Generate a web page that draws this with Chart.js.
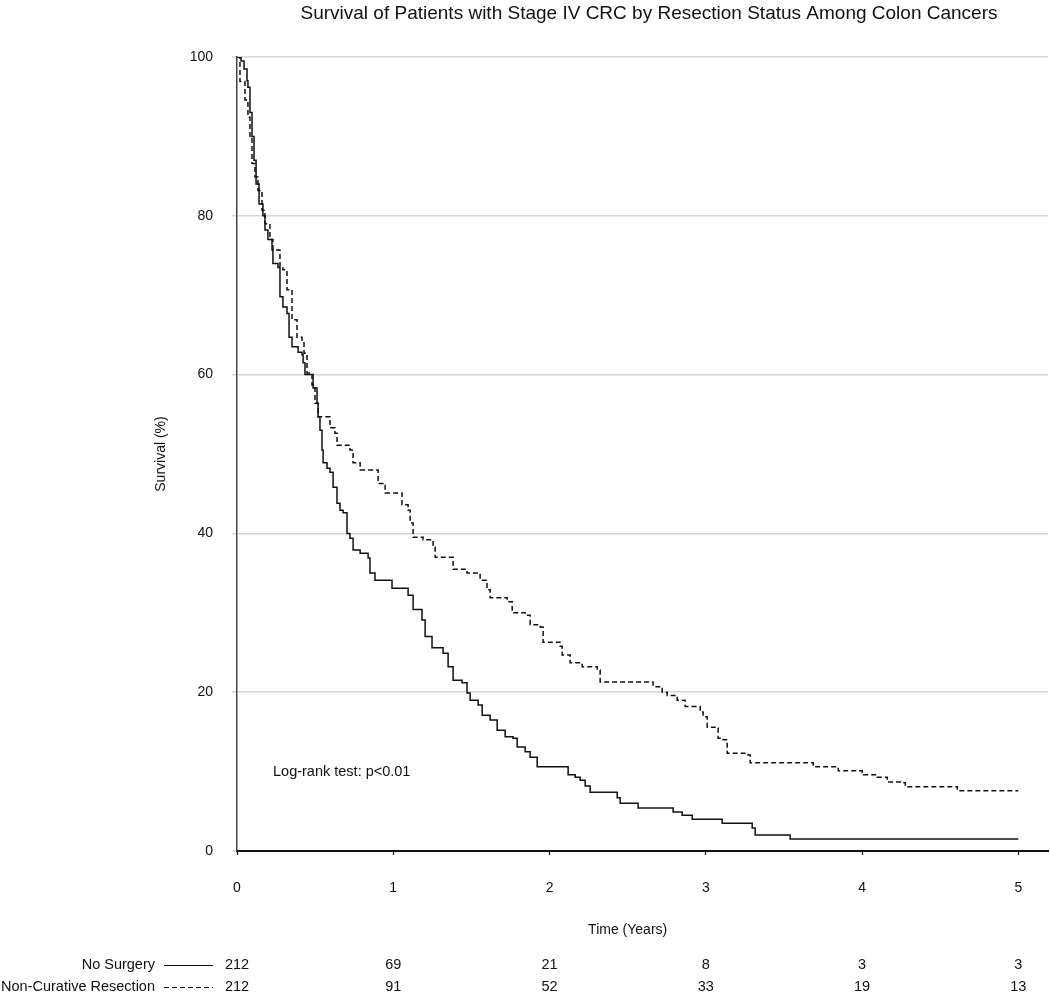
<!DOCTYPE html>
<html lang="en">
<head>
  <meta charset="UTF-8" />
  <title>Survival of Patients with Stage IV CRC by Resection Status</title>
  <script src="https://cdn.jsdelivr.net/npm/chart.js"></script>
  <style>
    body {
      margin: 0;
      background: #fff;
      font-family: 'Liberation Sans', Arial, sans-serif;
    }
    #wrap {
      width: 1050px;
      height: 992px;
    }
  </style>
</head>
<body>
  <div id="wrap">
    <canvas id="grafico" width="1050" height="992"></canvas>
  </div>

  <script>
    // Kaplan-Meier steps (time in years, survival in %)
    const noSurgeryTime = [0, 0.026, 0.045, 0.064, 0.070, 0.083, 0.096, 0.109, 0.122, 0.141, 0.166, 0.179, 0.198, 0.224, 0.230, 0.262, 0.275, 0.294, 0.320, 0.333, 0.352, 0.391, 0.416, 0.423, 0.435, 0.487, 0.512, 0.519, 0.531, 0.544, 0.551, 0.576, 0.595, 0.615, 0.640, 0.659, 0.679, 0.704, 0.723, 0.743, 0.788, 0.839, 0.851, 0.883, 0.992, 1.095, 1.127, 1.184, 1.204, 1.248, 1.319, 1.351, 1.383, 1.440, 1.472, 1.492, 1.543, 1.569, 1.620, 1.665, 1.716, 1.767, 1.793, 1.844, 1.876, 1.921, 2.119, 2.164, 2.196, 2.228, 2.260, 2.433, 2.452, 2.567, 2.791, 2.849, 2.913, 3.105, 3.297, 3.316, 3.540, 5.0];
    const noSurgerySurv = [100, 99.5, 98.5, 97, 96.2, 93, 90, 87, 84, 81.5, 80, 78.2, 77, 75.7, 74, 73.5, 69.8, 68.5, 67.7, 64.7, 63.5, 62.8, 62.5, 61.5, 60, 58.3, 56.4, 54.7, 53, 50.5, 48.9, 48.2, 47.7, 45.8, 43.8, 42.9, 42.6, 40, 39.4, 37.9, 37.5, 36.9, 35, 34.1, 33.1, 32.2, 30.4, 29.1, 27, 25.6, 24.9, 23.2, 21.5, 21.2, 19.9, 19, 18.4, 17.1, 16.5, 15.2, 14.4, 14.2, 13.1, 12.5, 11.8, 10.6, 9.6, 9.3, 8.9, 8.2, 7.4, 6.7, 6, 5.4, 4.9, 4.5, 4, 3.5, 2.9, 2, 1.5, 1.5];

    const resectionTime = [0, 0.019, 0.051, 0.070, 0.083, 0.096, 0.115, 0.134, 0.160, 0.179, 0.211, 0.230, 0.275, 0.294, 0.320, 0.352, 0.384, 0.416, 0.429, 0.448, 0.480, 0.499, 0.519, 0.595, 0.627, 0.640, 0.723, 0.743, 0.788, 0.903, 0.948, 1.056, 1.095, 1.108, 1.127, 1.191, 1.255, 1.268, 1.383, 1.472, 1.556, 1.600, 1.620, 1.729, 1.761, 1.844, 1.876, 1.940, 1.959, 2.068, 2.081, 2.132, 2.209, 2.305, 2.324, 2.663, 2.721, 2.753, 2.817, 2.868, 2.964, 2.983, 3.009, 3.060, 3.079, 3.111, 3.137, 3.271, 3.284, 3.688, 3.848, 4.001, 4.008, 4.097, 4.161, 4.257, 4.277, 4.610, 5.0];
    const resectionSurv = [100, 96.9, 94.6, 92.4, 90, 86.6, 84.9, 83.2, 80.7, 79, 77, 75.7, 73.5, 73.2, 70.7, 66.9, 64.7, 64, 62.7, 60.2, 58.7, 56.4, 54.7, 53.3, 52.6, 51.1, 50.5, 48.9, 48, 46.3, 45.1, 43.6, 42.9, 41.3, 39.5, 39.2, 38.3, 37, 35.5, 35, 34.1, 32.9, 31.9, 31.4, 30, 29.7, 28.5, 28.2, 26.3, 25.8, 24.7, 23.7, 23.2, 22.8, 21.3, 20.7, 20, 19.6, 19, 18.2, 17.5, 16.9, 15.6, 15.5, 14.2, 14, 12.3, 12.1, 11.1, 10.6, 10.1, 9.9, 9.6, 9.3, 8.7, 8.6, 8.1, 7.6, 7.6];

    // number at risk table
    const atRiskTimes = [0, 1, 2, 3, 4, 5];
    const noSurgeryAtRisk = [212, 69, 21, 8, 3, 3];
    const resectionAtRisk = [212, 91, 52, 33, 19, 13];

    const yTicks = [0, 20, 40, 60, 80, 100];
    const xTicks = [0, 1, 2, 3, 4, 5];

    const tituloGrafico = "Survival of Patients with Stage IV CRC by Resection Status Among Colon Cancers";
    const fuente = "'Liberation Sans', Arial, sans-serif";

    function aPuntos(tiempos, valores) {
      return tiempos.map((t, i) => ({ x: t, y: valores[i] }));
    }

    // titles, annotation and the at-risk table
    const textosExtra = {
      id: "textosExtra",
      afterDraw(chart) {
        const ctx = chart.ctx;
        const xs = chart.scales.x;
        const area = chart.chartArea;
        ctx.save();
        ctx.fillStyle = "#111";

        ctx.font = "19px " + fuente;
        ctx.textAlign = "center";
        ctx.textBaseline = "middle";
        ctx.fillText(tituloGrafico, 649, 14);

        ctx.font = "14px " + fuente;
        ctx.save();
        ctx.translate(161, (area.top + area.bottom) / 2);
        ctx.rotate(-Math.PI / 2);
        ctx.fillText("Survival (%)", 0, 0);
        ctx.restore();

        ctx.fillText("Time (Years)", (xs.getPixelForValue(0) + xs.getPixelForValue(5)) / 2, 930);

        ctx.textAlign = "left";
        ctx.font = "14.5px " + fuente;
        ctx.fillText("Log-rank test: p<0.01", 273, 772);

        // at-risk rows
        const filas = [
          { nombre: "No Surgery", datos: noSurgeryAtRisk, y: 965, dash: [] },
          { nombre: "Non-Curative Resection", datos: resectionAtRisk, y: 987, dash: [5, 3] }
        ];
        ctx.font = "14.5px " + fuente;
        filas.forEach(f => {
          ctx.textAlign = "right";
          ctx.fillText(f.nombre, 155, f.y);
          ctx.beginPath();
          ctx.setLineDash(f.dash);
          ctx.lineWidth = 1.2;
          ctx.strokeStyle = "#111";
          ctx.moveTo(164, f.y + 0.5);
          ctx.lineTo(213, f.y + 0.5);
          ctx.stroke();
          ctx.setLineDash([]);
          ctx.textAlign = "center";
          f.datos.forEach((n, i) => {
            ctx.fillText(String(n), xs.getPixelForValue(atRiskTimes[i]), f.y);
          });
        });
        ctx.restore();
      }
    };

    const ctx = document.getElementById("grafico").getContext("2d");

    new Chart(ctx, {
      type: "line",
      data: {
        datasets: [
          {
            label: "No Surgery",
            data: aPuntos(noSurgeryTime, noSurgerySurv),
            borderColor: "#111",
            borderWidth: 1.5,
            stepped: true,
            pointRadius: 0,
            fill: false
          },
          {
            label: "Non-Curative Resection",
            data: aPuntos(resectionTime, resectionSurv),
            borderColor: "#111",
            borderWidth: 1.5,
            borderDash: [5, 3],
            stepped: true,
            pointRadius: 0,
            fill: false
          }
        ]
      },
      options: {
        responsive: false,
        animation: false,
        layout: { padding: { top: 57, right: 2, left: 0, bottom: 0 } },
        plugins: {
          legend: { display: false },
          tooltip: { enabled: false },
          title: { display: false }
        },
        scales: {
          x: {
            type: "linear",
            min: 0,
            max: 5.19,
            afterFit: s => { s.height = 141; },
            afterBuildTicks: s => { s.ticks = xTicks.map(v => ({ value: v })); },
            ticks: {
              color: "#111",
              font: { size: 14, family: fuente },
              padding: 25,
              maxRotation: 0
            },
            grid: {
              drawOnChartArea: false,
              drawTicks: true,
              tickLength: 4,
              tickColor: "#111",
              tickWidth: 1.2
            },
            border: { color: "#111", width: 2 }
          },
          y: {
            min: 0,
            max: 100,
            afterFit: s => { s.width = 237; },
            afterBuildTicks: s => { s.ticks = yTicks.map(v => ({ value: v })); },
            ticks: {
              color: "#111",
              font: { size: 14, family: fuente },
              padding: 19
            },
            grid: {
              color: "#d6d6d6",
              lineWidth: 1.5,
              tickLength: 5,
              tickColor: "#d6d6d6"
            },
            border: { color: "#444", width: 1.5 }
          }
        }
      },
      plugins: [textosExtra]
    });
  </script>
</body>
</html>
